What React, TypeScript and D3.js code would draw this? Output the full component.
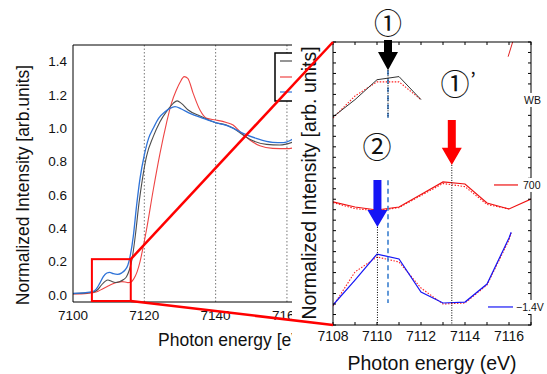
import React from "react";
import * as d3 from "d3";

type Pt = [number, number];

const W = 547;
const H = 374;

// overview XANES spectra: [photon energy (eV), normalized intensity]
const wbSpectrum: Pt[] = [
  [7100, 0.008], [7103, 0.011], [7105.5, 0.017], [7106.8, 0.03], [7108, 0.06],
  [7109, 0.082], [7109.8, 0.09], [7110.8, 0.082], [7111.8, 0.075], [7113, 0.08],
  [7114.2, 0.093], [7115, 0.11], [7115.8, 0.15], [7116.6, 0.22], [7117.5, 0.36],
  [7118.5, 0.55], [7119.5, 0.7], [7120.6, 0.83], [7122.5, 0.95], [7124.4, 1.04],
  [7126.2, 1.1], [7128.1, 1.15], [7129.2, 1.165], [7130.4, 1.15], [7132.3, 1.11],
  [7135.6, 1.074], [7140, 1.034], [7143, 1.02], [7145, 1.0], [7147.7, 0.96],
  [7150.5, 0.925], [7154.3, 0.904], [7158, 0.9], [7162, 0.92],
];
const a700Spectrum: Pt[] = [
  [7100, 0.006], [7104, 0.01], [7106.5, 0.018], [7108.4, 0.038], [7110, 0.055],
  [7111.2, 0.068], [7112.5, 0.076], [7113.7, 0.08], [7114.6, 0.078], [7115.4, 0.074],
  [7116.3, 0.078], [7117, 0.095], [7118, 0.14], [7118.8, 0.2], [7119.6, 0.28],
  [7120.6, 0.39], [7122.5, 0.63], [7124.4, 0.85], [7126.2, 1.03], [7127.6, 1.15],
  [7129, 1.23], [7130, 1.275], [7131.2, 1.31], [7132.2, 1.3], [7133.7, 1.21],
  [7135.6, 1.11], [7137.5, 1.06], [7140, 1.05], [7143, 1.035], [7144.9, 1.02],
  [7146.8, 0.98], [7149.6, 0.93], [7152.4, 0.895], [7156, 0.88], [7160, 0.878],
  [7162, 0.884],
];
const biasSpectrum: Pt[] = [
  [7100, 0.01], [7103, 0.013], [7105.5, 0.02], [7106.5, 0.035], [7107.5, 0.07],
  [7108.5, 0.11], [7109.5, 0.132], [7110.3, 0.136], [7111.3, 0.128], [7112.5, 0.124],
  [7113.7, 0.133], [7114.6, 0.15], [7115.4, 0.18], [7116, 0.23], [7116.9, 0.35],
  [7117.8, 0.53], [7118.8, 0.7], [7120, 0.84], [7121.2, 0.94], [7122.5, 1.0],
  [7124, 1.06], [7125.8, 1.1], [7127.2, 1.12], [7128.6, 1.13], [7130.4, 1.116],
  [7132.8, 1.09], [7136.5, 1.06], [7140, 1.034], [7143, 1.018], [7145, 1.0],
  [7147.7, 0.97], [7151.4, 0.94], [7156, 0.916], [7159, 0.914], [7162, 0.94],
];
const leftXTicks = [7100, 7120, 7140, 7160];
const leftGrid = [7120, 7140, 7160];
const leftYTicks = [0, 0.2, 0.4, 0.6, 0.8, 1.0, 1.2, 1.4];

// pre-edge zoom, stacked with offsets (arb. units); solid = sample, dotted = reference
const wbPre: Pt[] = [[7108, 19.85], [7109, 21.5], [7110, 23.4], [7111, 23.7], [7112, 21.5]];
const wbPreRef: Pt[] = [[7108, 19.75], [7109, 21.85], [7110, 23.2], [7111, 23.2], [7112, 21.5]];
const wbTail: Pt[] = [[7115.96, 25.6], [7116.3, 27.9]];
const a700Pre: Pt[] = [
  [7108, 11.74], [7109, 11.26], [7110, 10.97], [7111, 11.26], [7112, 12.45],
  [7113, 13.65], [7114, 13.45], [7115, 11.64], [7116, 11.07], [7117, 12.02],
];
const a700PreRef: Pt[] = [
  [7108, 11.68], [7109, 11.1], [7110, 10.9], [7111, 11.2], [7112, 12.35],
  [7113, 13.5], [7114, 13.2], [7115, 11.5], [7116, 11.07],
];
const biasPre: Pt[] = [
  [7108, 1.91], [7109, 4.29], [7110, 6.77], [7111, 6.3], [7112, 3.15],
  [7113, 2.1], [7114, 2.19], [7115, 3.91], [7116, 8.3], [7116.1, 8.85],
];
const biasPreRef: Pt[] = [
  [7108, 1.81], [7109, 5.06], [7110, 6.49], [7111, 6.01], [7112, 3.53],
  [7113, 2.0], [7114, 2.1], [7115, 3.82], [7116, 8.11], [7116.1, 8.78],
];
const rightXTicks = [7108, 7110, 7112, 7114, 7116];
const rightMinorX = d3.range(7108, 7118, 1);
const rightMinorY = d3.range(0, 28, 1);

// zoom window drawn on the overview
const zoomE = [7105.3, 7116.2];
const zoomV = [-0.036, 0.215];

// markers: energy, arrow top / shaft end / tip (arb. units), dotted guide end
const arrows = [
  { e: 7110.5, top: 27.2, neck: 26.05, tip: 24.3, guideEnd: 19.75, color: "#000" },
  { e: 7113.4, top: 19.56, neck: 16.9, tip: 15.27, guideEnd: 0, color: "#ff0000" },
  { e: 7110.02, top: 13.84, neck: 10.97, tip: 9.35, guideEnd: 0, color: "#1515f5" },
];
const blueDashes: Pt[] = [[24.3, 19.75], [13.8, 2.1]];
const dashE = 7110.5;

const FONT = "'Liberation Sans', Arial, sans-serif";
const CJK = "'Noto Sans CJK JP', 'DejaVu Sans', sans-serif";

export default function App() {
  const xL = d3.scaleLinear().domain([7100, 7161.7]).range([73, 293]);
  const yL = d3.scaleLinear().domain([-0.042, 1.5]).range([302, 45]);
  const xR = d3.scaleLinear().domain([7108, 7117]).range([333, 531]);
  const yR = d3.scaleLinear().domain([0, 27]).range([325, 42]);

  const lineL = d3
    .line<Pt>()
    .x((d) => xL(d[0]))
    .y((d) => yL(d[1]))
    .curve(d3.curveMonotoneX);
  const lineR = d3
    .line<Pt>()
    .x((d) => xR(d[0]))
    .y((d) => yR(d[1]));

  const [lx0, lx1] = xL.range();
  const [ly0, ly1] = yL.range();
  const [rx0, rx1] = xR.range();
  const [ry0, ry1] = yR.range();

  const arrowPath = (a: (typeof arrows)[0]) => {
    const x = xR(a.e);
    const t = yR(a.top), n = yR(a.neck), p = yR(a.tip);
    return `M${x - 4},${t}L${x + 4},${t}L${x + 4},${n}L${x + 10},${n}L${x},${p}L${x - 10},${n}L${x - 4},${n}Z`;
  };

  return (
    <svg width={W} height={H} style={{ position: "absolute", left: 0, top: 0, background: "#fff" }}>
      <defs>
        <clipPath id="leftClip">
          <rect x={0} y={0} width={292} height={H} />
        </clipPath>
        <clipPath id="leftPlot">
          <rect x={lx0} y={ly1} width={lx1 - lx0} height={ly0 - ly1} />
        </clipPath>
        <clipPath id="rightPlot">
          <rect x={rx0} y={ry1} width={rx1 - rx0} height={ry0 - ry1} />
        </clipPath>
      </defs>
      <rect width={W} height={H} fill="#fff" />

      {/* overview */}
      <g clipPath="url(#leftClip)" fontFamily={FONT}>
        {leftGrid.map((e) => (
          <line key={e} x1={xL(e)} x2={xL(e)} y1={ly1} y2={ly0} stroke="#777" strokeWidth={1} strokeDasharray="1.5,2" />
        ))}
        <g clipPath="url(#leftPlot)" fill="none" strokeWidth={1.1}>
          <path d={lineL(a700Spectrum) || ""} stroke="#ee4444" />
          <path d={lineL(wbSpectrum) || ""} stroke="#4d4d4d" />
          <path d={lineL(biasSpectrum) || ""} stroke="#2f73d8" strokeWidth={1.3} />
        </g>
        <line x1={lx0} x2={lx0} y1={ly1} y2={ly0} stroke="#000" />
        <line x1={lx0} x2={lx1} y1={ly0} y2={ly0} stroke="#000" />
        <line x1={lx0} x2={lx1} y1={ly1} y2={ly1} stroke="#000" />
        {leftYTicks.map((v) => (
          <text key={v} x={lx0 - 6} y={yL(v)} dy="0.35em" textAnchor="end" fontSize={13.5} fill="#111">
            {v.toFixed(1)}
          </text>
        ))}
        {leftXTicks.map((e) => (
          <text key={e} x={xL(e)} y={ly0 + 13} dy="0.35em" textAnchor="middle" fontSize={13.5} fill="#111">
            {e}
          </text>
        ))}
        <text x={158} y={346} fontSize={17.5} fill="#111">Photon energy [eV]</text>
        <text transform={`translate(29,185) rotate(-90)`} textAnchor="middle" fontSize={17.5} fill="#111">
          Normalized Intensity [arb.units]
        </text>
        {/* legend */}
        <rect x={275} y={53} width={40} height={48} fill="#fff" stroke="#000" strokeWidth={1.5} />
        {[
          ["#4d4d4d", 61],
          ["#ee4444", 77],
          ["#2f73d8", 92],
        ].map(([c, y]) => (
          <line key={c as string} x1={280} x2={300} y1={y as number} y2={y as number} stroke={c as string} strokeWidth={1.2} />
        ))}
        <rect
          x={xL(zoomE[0])}
          y={yL(zoomV[1])}
          width={xL(zoomE[1]) - xL(zoomE[0])}
          height={yL(zoomV[0]) - yL(zoomV[1])}
          fill="none"
          stroke="#ff0000"
          strokeWidth={2}
        />
      </g>

      {/* zoomed pre-edge */}
      <g fontFamily={FONT}>
        <text transform={`translate(316,183) rotate(-90)`} textAnchor="middle" fontSize={19.5} fill="#111">
          Normalized Intensity [arb. units]
        </text>
        <g clipPath="url(#rightPlot)" fill="none">
          <path d={lineR(wbPreRef) || ""} stroke="#ff2020" strokeWidth={1.1} strokeDasharray="1.5,1.5" />
          <path d={lineR(wbPre) || ""} stroke="#333" strokeWidth={1} />
          <path d={lineR(wbTail) || ""} stroke="#e02020" strokeWidth={1} />
          <path d={lineR(a700PreRef) || ""} stroke="#ff2020" strokeWidth={1.1} strokeDasharray="1.5,1.5" />
          <path d={lineR(a700Pre) || ""} stroke="#ee1111" strokeWidth={1.2} />
          <path d={lineR(biasPreRef) || ""} stroke="#ff2020" strokeWidth={1.1} strokeDasharray="1.5,1.5" />
          <path d={lineR(biasPre) || ""} stroke="#1515f5" strokeWidth={1.2} />
        </g>
        {blueDashes.map(([a, b]) => (
          <line key={a} x1={xR(dashE)} x2={xR(dashE)} y1={yR(a)} y2={yR(b)} stroke="#3b7fcf" strokeWidth={1.6} strokeDasharray="5,3.5" />
        ))}
        {arrows.map((a) => (
          <g key={a.e}>
            <line x1={xR(a.e)} x2={xR(a.e)} y1={yR(a.tip)} y2={yR(a.guideEnd)} stroke="#000" strokeWidth={1} strokeDasharray="1,1.5" />
            <path d={arrowPath(a)} fill={a.color} />
          </g>
        ))}
        <rect x={rx0} y={ry1} width={rx1 - rx0} height={ry0 - ry1} fill="none" stroke="#000" strokeWidth={1} />
        {rightMinorY.map((v) => (
          <g key={v}>
            <line x1={rx0} x2={rx0 + 3} y1={yR(v)} y2={yR(v)} stroke="#000" />
            <line x1={rx1} x2={rx1 - 3} y1={yR(v)} y2={yR(v)} stroke="#000" />
          </g>
        ))}
        {rightMinorX.map((e) => (
          <g key={e}>
            <line x1={xR(e)} x2={xR(e)} y1={ry0} y2={ry0 - 3} stroke="#000" />
            <line x1={xR(e)} x2={xR(e)} y1={ry1} y2={ry1 + 3} stroke="#000" />
          </g>
        ))}
        {rightXTicks.map((e) => (
          <text key={e} x={xR(e)} y={ry0 + 11} dy="0.35em" textAnchor="middle" fontSize={14} fill="#111">
            {e}
          </text>
        ))}
        <text x={(rx0 + rx1) / 2} y={370} textAnchor="middle" fontSize={19.5} fill="#111">
          Photon energy (eV)
        </text>
        {/* series labels */}
        <rect x={522} y={yR(21.47) - 7} width={20} height={14} fill="#fff" />
        <text x={524} y={yR(21.47)} dy="0.35em" fontSize={10.5} fill="#111">WB</text>
        <line x1={494} x2={518} y1={yR(13.36)} y2={yR(13.36)} stroke="#ee1111" strokeWidth={1.2} />
        <rect x={521} y={yR(13.36) - 7} width={22} height={14} fill="#fff" />
        <text x={523} y={yR(13.36)} dy="0.35em" fontSize={10.5} fill="#111">700</text>
        <line x1={488} x2={513} y1={yR(1.72)} y2={yR(1.72)} stroke="#1515f5" strokeWidth={1.2} />
        <rect x={515} y={yR(1.72) - 7} width={32} height={14} fill="#fff" />
        <text x={516} y={yR(1.72)} dy="0.35em" fontSize={10.5} fill="#111">−1.4V</text>
        {/* peak markers */}
        <text x={xR(7110.5)} y={24} dy="0.35em" textAnchor="middle" fontSize={28} fontFamily={CJK} fill="#111">①</text>
        <text x={455} y={85} dy="0.35em" textAnchor="middle" fontSize={29} fontFamily={CJK} fill="#111">①</text>
        <text x={473} y={80} dy="0.35em" textAnchor="middle" fontSize={20} fontFamily={CJK} fill="#111">’</text>
        <text x={377} y={148} dy="0.35em" textAnchor="middle" fontSize={29} fontFamily={CJK} fill="#111">②</text>
      </g>

      {/* connectors from zoom box to the zoomed panel */}
      <line x1={xL(zoomE[1])} y1={yL(zoomV[1])} x2={rx0} y2={ry1} stroke="#ff0000" strokeWidth={2.5} />
      <line x1={xL(zoomE[1])} y1={yL(zoomV[0])} x2={rx0} y2={ry0} stroke="#ff0000" strokeWidth={2.5} />
    </svg>
  );
}
